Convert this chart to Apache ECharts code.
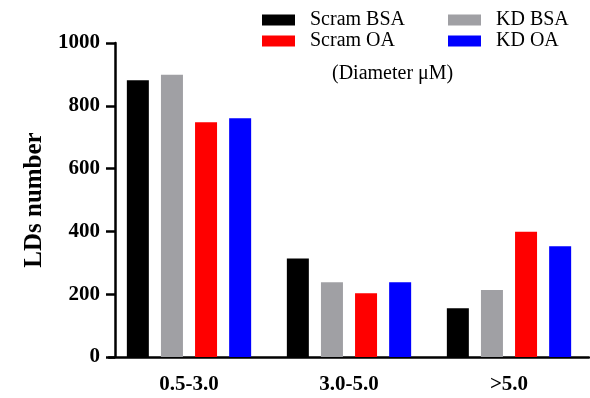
<!DOCTYPE html>
<html>
<head>
<meta charset="utf-8">
<script src="https://cdn.jsdelivr.net/npm/echarts@6/dist/echarts.min.js"></script>
<style>html,body{margin:0;padding:0;background:#fff}#c{width:590px;height:398px}</style>
</head>
<body>
<div id="c"></div>
<script>
const categories = ['0.5-3.0', '3.0-5.0', '>5.0'];
const seriesNames = ['Scram BSA', 'KD BSA', 'Scram OA', 'KD OA'];
const scramBSA = [881, 314, 155];
const kdBSA = [899, 238, 213];
const scramOA = [748, 203, 399];
const kdOA = [760, 238, 353];
const colors = ['#000000', '#a0a0a4', '#ff0000', '#0000ff'];
const values = [scramBSA, kdBSA, scramOA, kdOA];
const serif = "'Liberation Serif', 'Times New Roman', serif";

const chart = echarts.init(document.getElementById('c'), null, {renderer: 'canvas'});
const legendCommon = {
  orient: 'vertical', top: 5, itemWidth: 33, itemHeight: 11, itemGap: 1,
  icon: 'rect',
  textStyle: {fontFamily: serif, fontSize: 20, color: '#000', lineHeight: 20, padding: [0, 0, 0, 10]}
};
chart.setOption({
  animation: false,
  title: {
    text: '(Diameter μM)', left: 327, top: 59,
    textStyle: {fontFamily: serif, fontSize: 20, fontWeight: 'normal', color: '#000'}
  },
  legend: [
    Object.assign({}, legendCommon, {left: 257, data: [seriesNames[0], seriesNames[2]]}),
    Object.assign({}, legendCommon, {left: 443, data: [seriesNames[1], seriesNames[3]]})
  ],
  grid: {left: 109, right: 1, top: 43, bottom: 41, containLabel: false},
  xAxis: {
    type: 'category', data: categories,
    axisLine: {lineStyle: {color: '#000', width: 2.5}},
    axisTick: {alignWithLabel: true, length: 9, lineStyle: {width: 2.5, color: '#000'}},
    axisLabel: {margin: 17, fontFamily: serif, fontSize: 21, fontWeight: 'bold', color: '#000'}
  },
  yAxis: {
    type: 'value', min: 0, max: 1000, interval: 200, offset: -6,
    name: 'LDs number', nameLocation: 'middle', nameGap: 59,
    nameTextStyle: {fontFamily: serif, fontSize: 25, fontWeight: 'bold', color: '#000'},
    axisLine: {show: true, lineStyle: {color: '#000', width: 2.5}},
    axisTick: {show: true, length: 9, lineStyle: {width: 2.5, color: '#000'}},
    splitLine: {show: false},
    axisLabel: {margin: 15, fontFamily: serif, fontSize: 21, fontWeight: 'bold', color: '#000',
      formatter: v => String(v)}
  },
  series: seriesNames.map((n, i) => ({
    name: n, type: 'bar', data: values[i], barWidth: 22, barGap: '55%',
    itemStyle: {color: colors[i]}
  }))
});
</script>
</body>
</html>
